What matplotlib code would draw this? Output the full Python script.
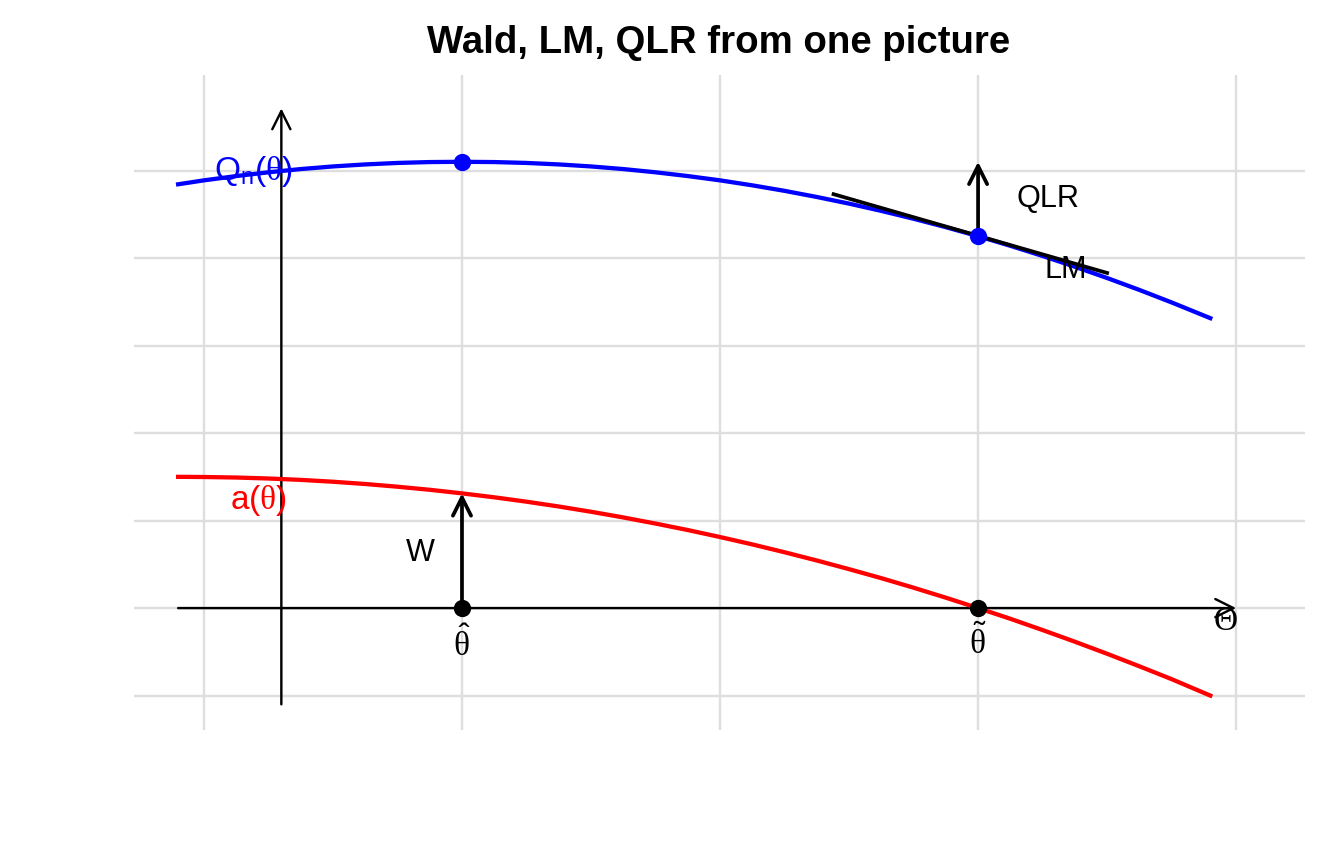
import matplotlib
matplotlib.use("Agg")
import matplotlib.pyplot as plt

plt.rcParams["font.family"] = ["Liberation Sans", "DejaVu Sans"]
plt.rcParams["mathtext.fontset"] = "custom"
plt.rcParams["mathtext.rm"] = "Liberation Sans"
plt.rcParams["mathtext.it"] = "Liberation Serif"
plt.rcParams["mathtext.bf"] = "Liberation Sans:bold"

# Curves
theta = [-0.1, 0.0, 0.125, 0.25, 0.375, 0.5, 0.625, 0.75, 0.875, 1.0,
         1.125, 1.25, 1.375, 1.5, 1.625, 1.75, 1.875, 2.0, 2.125, 2.25,
         2.375, 2.5, 2.625, 2.75, 2.875, 3.0, 3.125, 3.25, 3.375, 3.5,
         3.625, 3.75, 3.9]
q_n = [4.843, 4.888, 4.937, 4.980, 5.017, 5.047, 5.070, 5.087, 5.097, 5.100,
       5.097, 5.087, 5.070, 5.047, 5.017, 4.980, 4.937, 4.888, 4.831, 4.768,
       4.698, 4.622, 4.539, 4.449, 4.353, 4.250, 4.140, 4.024, 3.901, 3.772,
       3.636, 3.493, 3.313]
a_th = [1.500, 1.498, 1.492, 1.481, 1.465, 1.444, 1.418, 1.387, 1.352, 1.311,
        1.266, 1.216, 1.161, 1.101, 1.036, 0.966, 0.892, 0.812, 0.728, 0.638,
        0.544, 0.445, 0.342, 0.233, 0.119, 0.0, -0.122, -0.251, -0.384, -0.522,
        -0.665, -0.812, -1.0]

theta_hat = 1.0
theta_tilde = 3.0
tangent_x = [2.44, 3.5]
tangent_y = [4.73, 3.83]

i_hat = theta.index(theta_hat)
i_tilde = theta.index(theta_tilde)

fig = plt.figure(figsize=(7, 4.5), dpi=192)
ax = fig.add_axes([0.0997, 0.155, 0.8713, 0.758])
ax.set_xlim(-0.271, 4.267)
ax.set_ylim(-1.394, 6.09)

# theme_minimal style grid
for gx in range(0, 5):
    ax.axvline(gx, color="#dedede", lw=0.9, zorder=0)
for gy in range(-1, 6):
    ax.axhline(gy, color="#dedede", lw=0.9, zorder=0)
for s in ax.spines.values():
    s.set_visible(False)
ax.set_xticks([])
ax.set_yticks([])

arrow_thin = dict(arrowstyle="->", color="black", lw=0.9,
                  mutation_scale=17, shrinkA=0, shrinkB=0)
arrow_bold = dict(arrowstyle="->", color="black", lw=1.4,
                  mutation_scale=17, shrinkA=0, shrinkB=0)

# axes arrows
ax.annotate("", xy=(4.0, 0), xytext=(-0.1, 0), arrowprops=arrow_thin)
ax.annotate("", xy=(0.3, 5.71), xytext=(0.3, -1.1), arrowprops=arrow_thin)

# curves
ax.plot(theta, q_n, color="blue", lw=1.6, zorder=3)
ax.plot(theta, a_th, color="red", lw=1.6, zorder=3)

# tangent (LM)
ax.plot(tangent_x, tangent_y, color="black", lw=1.4, zorder=4)

# W and QLR arrows
ax.annotate("", xy=(theta_hat, a_th[i_hat]), xytext=(theta_hat, 0),
            arrowprops=arrow_bold, zorder=4)
ax.annotate("", xy=(theta_tilde, q_n[i_hat]), xytext=(theta_tilde, q_n[i_tilde]),
            arrowprops=arrow_bold, zorder=4)

# points
ax.scatter([theta_hat, theta_tilde], [q_n[i_hat], q_n[i_tilde]], s=30,
           color="blue", zorder=5)
ax.scatter([theta_hat, theta_tilde], [0, 0], s=30, color="black", zorder=5)

# labels
ax.text(0.19, 4.99, r"$\mathrm{Q}_\mathrm{n}(\theta)$", color="blue",
        fontsize=12.5, ha="center", va="center")
ax.text(0.21, 1.23, r"$\mathrm{a}(\theta)$", color="red",
        fontsize=12.5, ha="center", va="center")
ax.text(3.27, 4.67, "QLR", fontsize=11.5, ha="center", va="center")
ax.text(3.34, 3.86, "LM", fontsize=11.5, ha="center", va="center")
ax.text(0.84, 0.63, "W", fontsize=11.5, ha="center", va="center")
ax.text(theta_hat, -0.42, r"$\hat{\theta}$", fontsize=12.5, ha="center", va="center")
ax.text(theta_tilde, -0.40, r"$\tilde{\theta}$", fontsize=12.5, ha="center", va="center")
ax.text(3.96, -0.16, "Θ", fontsize=12.5, ha="center", va="center",
        family=["Liberation Serif", "DejaVu Serif"])

fig.text(0.535, 1 - 53 / 864, "Wald, LM, QLR from one picture", fontsize=14.4,
         fontweight="bold", ha="center", va="baseline")

fig.savefig("out.png", dpi=192)
